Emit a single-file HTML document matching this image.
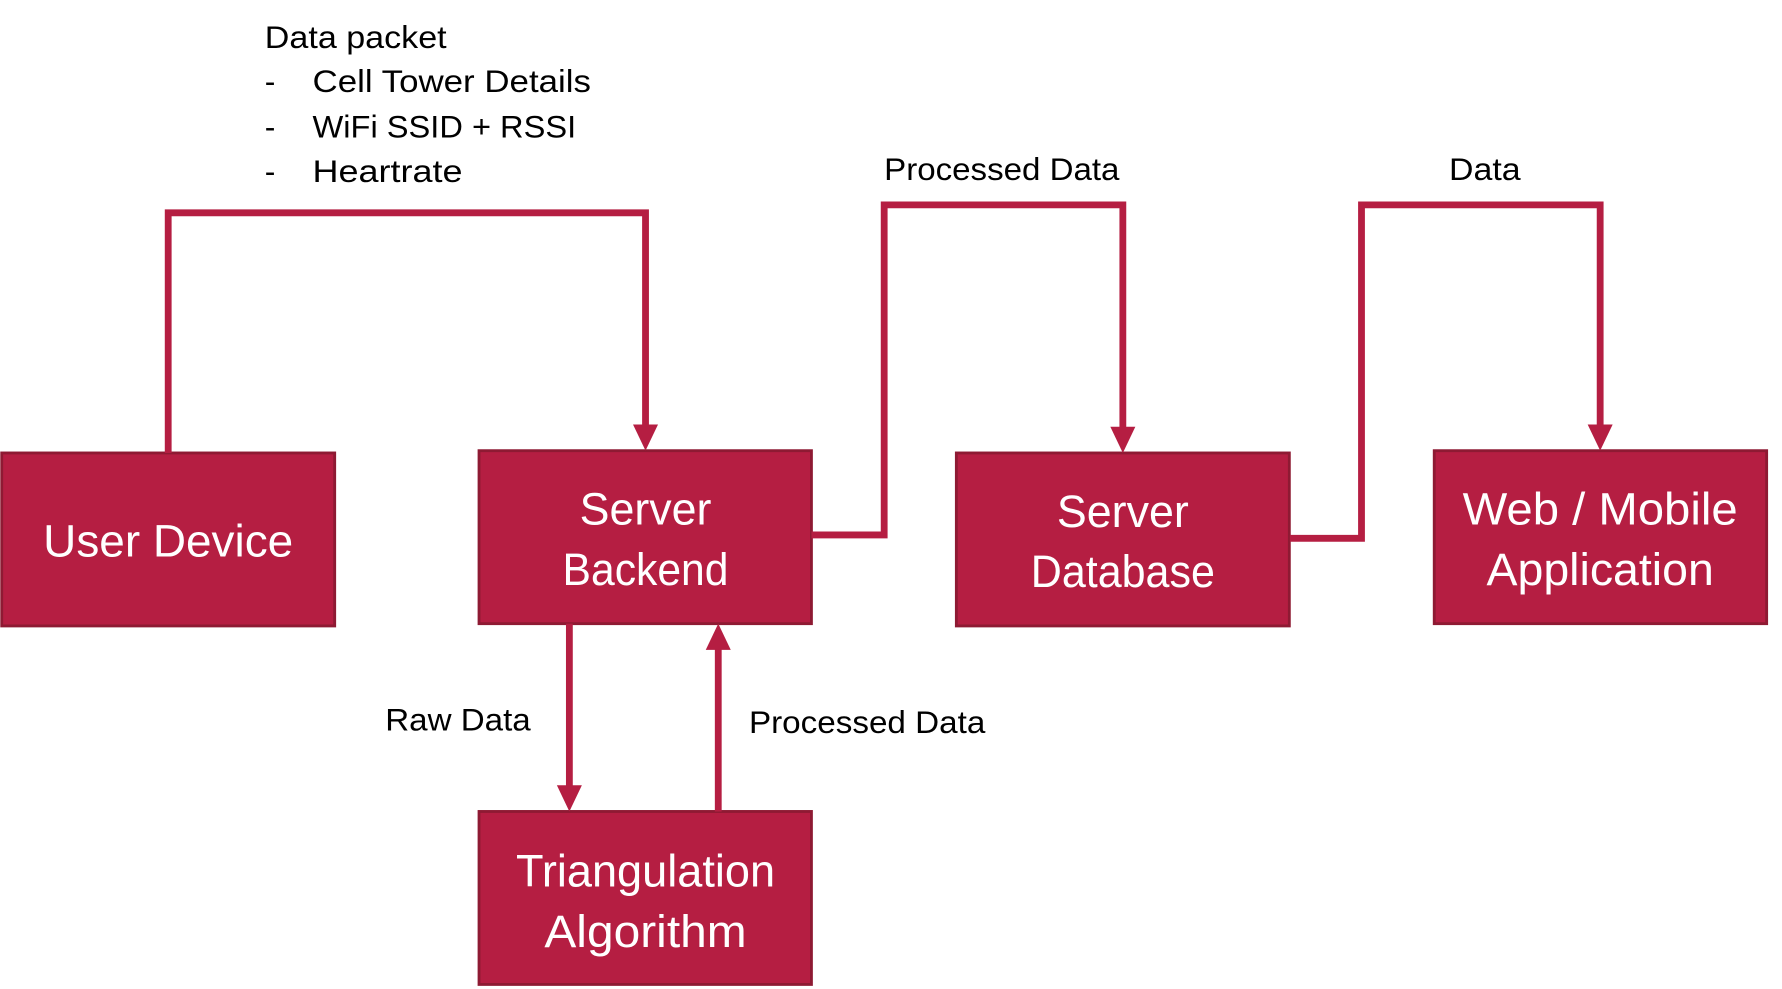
<!DOCTYPE html>
<html><head><meta charset="utf-8"><style>
html,body{margin:0;padding:0;background:#fff;}
svg{display:block;}
text{font-family:"Liberation Sans",sans-serif;}
</style></head><body>
<svg width="1782" height="989" viewBox="0 0 1568 869" preserveAspectRatio="none" xmlns="http://www.w3.org/2000/svg">
<g fill="#B51E42" stroke="#8E1A33" stroke-width="2.5">
<rect x="1.5" y="398" width="293" height="152"/>
<rect x="421.5" y="396" width="292.5" height="152"/>
<rect x="841.5" y="398" width="293" height="152"/>
<rect x="1262" y="396" width="292.5" height="152"/>
<rect x="421.5" y="713" width="292.5" height="152"/>
</g>
<g fill="none" stroke="#B51E42" stroke-width="6" stroke-linejoin="miter">
<polyline points="148,398 148,187 568,187 568,378"/>
<polyline points="714,470 778,470 778,180 988,180 988,380"/>
<polyline points="1135,473 1198,473 1198,180 1408,180 1408,378"/>
<line x1="501" y1="548" x2="501" y2="695"/>
<line x1="632" y1="713" x2="632" y2="566"/>
</g>
<g fill="#B51E42">
<polygon points="557,373 579,373 568,396"/>
<polygon points="977,375 999,375 988,398"/>
<polygon points="1397,373 1419,373 1408,396"/>
<polygon points="490,690 512,690 501,713"/>
<polygon points="621,571 643,571 632,548"/>
</g>
<g fill="#fff" font-size="40" text-anchor="middle">
<text x="148" y="489" textLength="220" lengthAdjust="spacingAndGlyphs">User Device</text>
<text x="568" y="461" textLength="116" lengthAdjust="spacingAndGlyphs">Server</text>
<text x="568" y="514" textLength="146" lengthAdjust="spacingAndGlyphs">Backend</text>
<text x="988" y="463" textLength="116" lengthAdjust="spacingAndGlyphs">Server</text>
<text x="988" y="516" textLength="162" lengthAdjust="spacingAndGlyphs">Database</text>
<text x="1408" y="461" textLength="242" lengthAdjust="spacingAndGlyphs">Web / Mobile</text>
<text x="1408" y="514" textLength="200" lengthAdjust="spacingAndGlyphs">Application</text>
<text x="568" y="779" textLength="228" lengthAdjust="spacingAndGlyphs">Triangulation</text>
<text x="568" y="832" textLength="178" lengthAdjust="spacingAndGlyphs">Algorithm</text>
</g>
<g fill="#000" font-size="28">
<text x="233" y="42" textLength="160" lengthAdjust="spacingAndGlyphs">Data packet</text>
<text x="233" y="81">-</text>
<text x="275" y="81" textLength="245" lengthAdjust="spacingAndGlyphs">Cell Tower Details</text>
<text x="233" y="121">-</text>
<text x="275" y="121" textLength="232" lengthAdjust="spacingAndGlyphs">WiFi SSID + RSSI</text>
<text x="233" y="160">-</text>
<text x="275" y="160" textLength="132" lengthAdjust="spacingAndGlyphs">Heartrate</text>
<text x="778" y="158" textLength="207" lengthAdjust="spacingAndGlyphs">Processed Data</text>
<text x="1275" y="158" textLength="63" lengthAdjust="spacingAndGlyphs">Data</text>
<text x="339" y="642" textLength="128" lengthAdjust="spacingAndGlyphs">Raw Data</text>
<text x="659" y="644" textLength="208" lengthAdjust="spacingAndGlyphs">Processed Data</text>
</g>
</svg>
</body></html>
